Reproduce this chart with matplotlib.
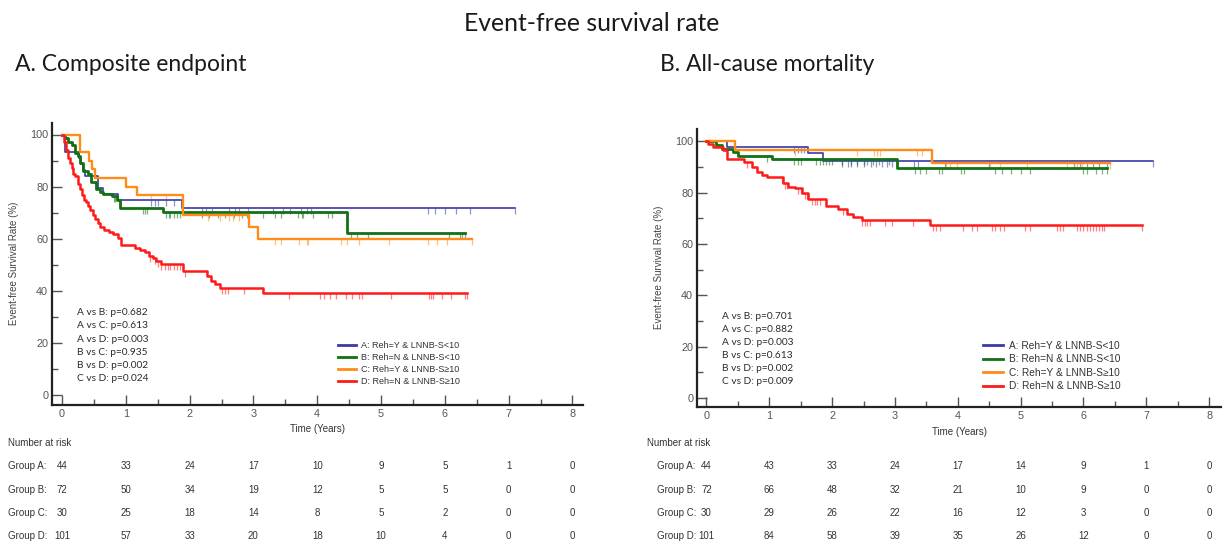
import numpy as np
import matplotlib
matplotlib.use("Agg")
import matplotlib.pyplot as plt
from matplotlib.path import Path
from matplotlib.lines import Line2D
import matplotlib.transforms as mtransforms

plt.rcParams['font.family'] = ['Liberation Sans', 'DejaVu Sans']

# ---------------- DATA ----------------
groups = ["A", "B", "C", "D"]
legend_labels = ["A: Reh=Y & LNNB-S<10", "B: Reh=N & LNNB-S<10",
                 "C: Reh=Y & LNNB-S\u226510", "D: Reh=N & LNNB-S\u226510"]
colors = ["#3a3aa8", "#137013", "#ff8c1a", "#ff1a1a"]

# Panel A: composite endpoint
compA_t = [0, 0.05, 0.27, 0.30, 0.33, 0.36, 0.57, 0.65, 0.88, 1.88]
compA_s = [100, 93.2, 90.9, 88.6, 86.4, 84.1, 79.5, 77.3, 75.0, 71.9]
compA_c = [1.39, 1.45, 1.51, 1.63, 1.75, 2.2, 2.26, 2.35, 2.62, 2.71, 2.77, 2.92, 3.31,
           3.46, 3.57, 3.75, 3.84, 3.9, 5.73, 5.85, 6.0, 6.18, 6.39, 7.1]
compB_t = [0, 0.05, 0.1, 0.15, 0.2, 0.25, 0.28, 0.33, 0.41, 0.46, 0.54, 0.6, 0.65, 0.78,
           0.86, 0.91, 1.59, 4.47]
compB_s = [100, 98.6, 97.2, 95.8, 93.1, 91.7, 88.9, 86.1, 84.7, 81.9, 79.2, 77.8, 77.1,
           76.4, 75.0, 71.8, 70.3, 62.3]
compB_c = [0.81, 0.83, 1.27, 1.3, 1.33, 1.63, 1.67, 1.7, 1.75, 1.8, 1.85, 2.2, 2.3, 2.45,
           2.55, 2.7, 2.82, 2.9, 3.15, 3.34, 3.43, 3.7, 3.76, 3.78, 3.93, 4.17, 4.23, 4.53,
           4.62, 4.8, 6.06, 6.24, 6.27, 6.32]
compC_t = [0, 0.28, 0.43, 0.47, 0.52, 1.0, 1.17, 1.9, 2.93, 3.07]
compC_s = [100, 93.3, 90.0, 86.7, 83.3, 80.0, 76.7, 69.0, 64.4, 59.8]
compC_c = [1.39, 1.63, 2.29, 2.47, 2.62, 2.68, 2.77, 3.34, 3.43, 3.72, 3.84, 3.86, 4.38,
           4.47, 4.65, 5.13, 5.73, 5.88, 6.03, 6.42]
compD_t = [0, 0.03, 0.06, 0.09, 0.12, 0.15, 0.18, 0.21, 0.25, 0.28, 0.31, 0.34, 0.37, 0.40,
           0.44, 0.48, 0.52, 0.56, 0.60, 0.66, 0.73, 0.80, 0.87, 0.92, 1.14, 1.22, 1.30,
           1.36, 1.42, 1.48, 1.55, 1.9, 2.27, 2.33, 2.40, 2.47, 3.15]
compD_s = [100, 97, 94, 91, 89, 87, 85, 84, 81, 79, 77, 75, 74, 72.5, 71, 69, 67.5, 66,
           64.5, 63.5, 62.7, 62, 60.5, 57.8, 56.5, 55.7, 55, 53.5, 52.5, 51.5, 50.2, 47.5,
           45.6, 43.8, 42.8, 41.3, 39.2]
compD_c = [1.38, 1.45, 1.5, 1.55, 1.62, 1.66, 1.7, 1.75, 1.8, 1.85, 1.92, 2.5, 2.55, 2.6,
           2.85, 3.55, 4.05, 4.1, 4.2, 4.3, 4.45, 4.55, 4.65, 4.7, 5.15, 5.75, 5.78, 5.81,
           5.95, 6.1, 6.32, 6.35]

# Panel B: all-cause mortality
mortA_t = [0, 0.33, 1.62, 1.85]
mortA_s = [100, 97.7, 95.4, 92.3]
mortA_c = [1.4, 1.45, 1.5, 1.55, 2.15, 2.25, 2.3, 2.4, 2.5, 2.62, 2.7, 2.8, 2.88, 2.95,
           3.3, 3.37, 3.8, 4.5, 5.85, 5.95, 6.05, 6.15, 6.25, 6.38, 7.1]
mortB_t = [0, 0.15, 0.25, 0.42, 0.5, 1.05, 3.04]
mortB_s = [100, 98.6, 97.2, 95.8, 94.4, 93.0, 89.8]
mortB_c = [0.97, 1.4, 1.45, 1.5, 1.75, 1.8, 1.85, 1.9, 1.95, 2.0, 2.15, 2.3, 2.4, 2.5, 2.55,
           2.65, 2.75, 2.9, 3.32, 3.4, 3.5, 3.7, 3.75, 4.05, 4.1, 4.6, 4.7, 4.85, 5.0, 5.15,
           6.0, 6.05, 6.2, 6.3, 6.38]
mortC_t = [0, 0.46, 3.59]
mortC_s = [100, 96.7, 91.6]
mortC_c = [1.41, 2.39, 2.66, 2.71, 2.76, 3.35, 3.43, 3.82, 3.88, 3.98, 4.51, 4.67, 5.1,
           5.74, 5.9, 5.98, 6.42]
mortD_t = [0, 0.03, 0.11, 0.27, 0.32, 0.59, 0.72, 0.8, 0.88, 0.96, 1.22, 1.3, 1.41, 1.52,
           1.62, 1.91, 2.1, 2.23, 2.34, 2.47, 3.56]
mortD_s = [100, 99, 98, 96.7, 93.0, 92.1, 90.2, 88.2, 86.9, 86.0, 83.9, 82.4, 81.7, 79.8,
           77.5, 74.9, 73.6, 71.7, 70.4, 69.4, 67.4]
mortD_c = [0.64, 1.2, 1.25, 1.28, 1.45, 1.5, 1.57, 1.6, 1.68, 1.72, 1.76, 1.8, 2.18, 2.47,
           2.52, 2.56, 2.6, 2.84, 2.95, 3.29, 3.6, 3.65, 3.72, 4.09, 4.22, 4.3, 4.55, 4.6,
           4.68, 4.73, 5.07, 5.15, 5.58, 5.63, 5.68, 5.9, 5.95, 6.0, 6.05, 6.1, 6.15, 6.2,
           6.25, 6.3, 6.33, 6.93]

comp_pvals = ["A vs B: p=0.682", "A vs C: p=0.613", "A vs D: p=0.003",
              "B vs C: p=0.935", "B vs D: p=0.002", "C vs D: p=0.024"]
mort_pvals = ["A vs B: p=0.701", "A vs C: p=0.882", "A vs D: p=0.003",
              "B vs C: p=0.613", "B vs D: p=0.002", "C vs D: p=0.009"]

risk_times = [0, 1, 2, 3, 4, 5, 6, 7, 8]
comp_risk = {"A": [44, 33, 24, 17, 10, 9, 5, 1, 0],
             "B": [72, 50, 34, 19, 12, 5, 5, 0, 0],
             "C": [30, 25, 18, 14, 8, 5, 2, 0, 0],
             "D": [101, 57, 33, 20, 18, 10, 4, 0, 0]}
mort_risk = {"A": [44, 43, 33, 24, 17, 14, 9, 1, 0],
             "B": [72, 66, 48, 32, 21, 10, 9, 0, 0],
             "C": [30, 29, 26, 22, 16, 12, 3, 0, 0],
             "D": [101, 84, 58, 39, 35, 26, 12, 0, 0]}

title = "Event-free survival rate"
subtitle_a = "A. Composite endpoint"
subtitle_b = "B. All-cause mortality"
ylabel = "Event-free Survival Rate (%)"
xlabel = "Time (Years)"

# ---------------- FIGURE ----------------
W, H = 1223, 548
fig = plt.figure(figsize=(W / 100, H / 100), dpi=100)

def fx(px):
    return px / W

def fy(py):
    return 1 - py / H

censor_marker = Path([(0, 0), (0, -1)], [Path.MOVETO, Path.LINETO])
tick_gray = "#555555"

def km_panel(ax, curves, pvals, xlim, ylim, leg_anchor, leg_fs, lws):
    handles = []
    for (t, s, c), col, lab, lw in zip(curves, colors, legend_labels, lws):
        t = np.asarray(t, float); s = np.asarray(s, float); c = np.asarray(c, float)
        tp = np.append(t, c.max()); sp = np.append(s, s[-1])
        ax.step(tp, sp, where='post', color=col, lw=lw, label=lab, zorder=3)
        idx = np.searchsorted(t, c, side='right') - 1
        ax.plot(c, s[idx], ls='none', marker=censor_marker, ms=8, mew=0.9,
                color=col, alpha=0.55, zorder=2)
        handles.append(Line2D([], [], color=col, lw=2.0))
    ax.set_xlim(*xlim)
    ax.set_ylim(*ylim)
    for sp_ in ['top', 'right']:
        ax.spines[sp_].set_visible(False)
    for sp_ in ['left', 'bottom']:
        ax.spines[sp_].set_linewidth(1.6)
        ax.spines[sp_].set_color('#222222')
    ax.set_xticks(np.arange(0, 9, 1))
    ax.set_xticks(np.arange(0.5, 8, 1), minor=True)
    ax.set_yticks(np.arange(0, 101, 20))
    ax.set_yticks(np.arange(10, 100, 20), minor=True)
    ax.tick_params(axis='both', which='major', direction='in', length=7, width=1.0,
                   color='#555555', labelsize=7.8, labelcolor=tick_gray, pad=3)
    ax.tick_params(axis='both', which='minor', direction='in', length=4, width=1.0,
                   color='#555555')
    ax.set_xlabel(xlabel, fontsize=7, color='#333333', labelpad=4)
    for i, txt in enumerate(pvals):
        ax.text(0.24, 31.8 - 5.1 * i, txt, fontsize=7.3, color='#2a2a2a',
                family=['Lato', 'DejaVu Sans'], va='center', ha='left')
    leg = ax.legend(handles=handles, labels=legend_labels, loc='lower left',
                    bbox_to_anchor=leg_anchor, frameon=False, fontsize=leg_fs,
                    handlelength=2.0, handletextpad=0.6, labelspacing=0.35,
                    borderpad=0, borderaxespad=0)
    for t_ in leg.get_texts():
        t_.set_color('#333333')
    return ax

axA = fig.add_axes([fx(52.3), fy(404.5), fx(582.7 - 52.3), (404.5 - 122.5) / H])
km_panel(axA,
         [(compA_t, compA_s, compA_c), (compB_t, compB_s, compB_c),
          (compC_t, compC_s, compC_c), (compD_t, compD_s, compD_c)],
         comp_pvals, (-0.152, 8.16), (-3.5, 104.6), (0.538, 0.065), 6.5,
         [1.2, 2.0, 1.7, 1.8])

axB = fig.add_axes([fx(697.3), fy(407.3), fx(1221 - 697.3), (407.3 - 129.4) / H])
km_panel(axB,
         [(mortA_t, mortA_s, mortA_c), (mortB_t, mortB_s, mortB_c),
          (mortC_t, mortC_s, mortC_c), (mortD_t, mortD_s, mortD_c)],
         mort_pvals, (-0.146, 8.19), (-3.6, 104.7), (0.545, 0.058), 7.3,
         [1.2, 2.0, 1.7, 1.8])

# titles
fig.text(fx(592), fy(31), title, ha='center', va='baseline', fontsize=17.8,
         family=['Lato', 'DejaVu Sans'], color='#1a1a1a')
fig.text(fx(15), fy(71), subtitle_a, ha='left', va='baseline', fontsize=16.5,
         family=['Lato', 'DejaVu Sans'], color='#1a1a1a')
fig.text(fx(660), fy(71), subtitle_b, ha='left', va='baseline', fontsize=16.5,
         family=['Lato', 'DejaVu Sans'], color='#1a1a1a')

# y labels
fig.text(fx(14), fy(263), ylabel, rotation=90, ha='center', va='center', fontsize=7,
         color='#444444')
fig.text(fx(659), fy(267), ylabel, rotation=90, ha='center', va='center', fontsize=7,
         color='#444444')

# number at risk tables
row_y = [466, 490, 513, 536]
for ax, risk, x_head, x_grp in [(axA, comp_risk, 8, 8), (axB, mort_risk, 647, 657)]:
    fig.text(fx(x_head), fy(443), "Number at risk", ha='left', va='center', fontsize=7,
             color='#333333')
    trans = mtransforms.blended_transform_factory(ax.transData, fig.transFigure)
    for g, yy in zip(groups, row_y):
        fig.text(fx(x_grp), fy(yy), f"Group {g}:", ha='left', va='center', fontsize=7,
                 color='#333333')
        for tt, n in zip(risk_times, risk[g]):
            ax.text(tt, fy(yy), str(n), transform=trans, ha='center', va='center',
                    fontsize=7, color='#333333', clip_on=False)

fig.savefig("out.png", dpi=100)
